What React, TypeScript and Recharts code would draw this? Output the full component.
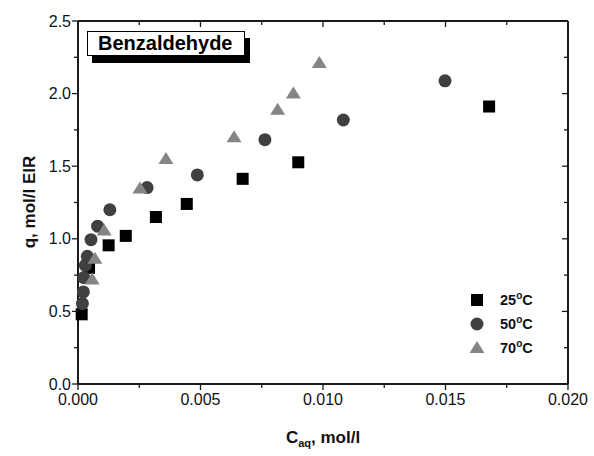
import { ReferenceLine, Scatter, ScatterChart, XAxis, YAxis } from 'recharts'

const xTicks = [0, 0.0025, 0.005, 0.0075, 0.01, 0.0125, 0.015, 0.0175, 0.02]
const yTicks = [0, 0.25, 0.5, 0.75, 1, 1.25, 1.5, 1.75, 2, 2.25, 2.5]

const c25 = [0.00015, 0.00045, 0.00125, 0.00195, 0.00318, 0.00444, 0.00672, 0.00899, 0.01678]
const q25 = [0.48, 0.8, 0.955, 1.02, 1.15, 1.24, 1.413, 1.527, 1.911]

const c50 = [0.00018, 0.00022, 0.00024, 0.0003, 0.00038, 0.00053, 0.0008, 0.0013, 0.00282, 0.00487, 0.00763, 0.01083, 0.01498]
const q50 = [0.554, 0.634, 0.733, 0.817, 0.879, 0.994, 1.087, 1.2, 1.353, 1.44, 1.683, 1.818, 2.088]

const c70 = [0.00058, 0.00069, 0.00107, 0.00253, 0.00359, 0.00637, 0.00815, 0.00879, 0.00985]
const q70 = [0.72, 0.863, 1.058, 1.346, 1.55, 1.7, 1.889, 2.0, 2.21]

const series = [
  { name: '25', c: c25, q: q25, color: '#000000', shape: 'square' },
  { name: '50', c: c50, q: q50, color: '#404040', shape: 'circle' },
  { name: '70', c: c70, q: q70, color: '#858585', shape: 'triangle' },
]

const toPoints = (c: number[], q: number[]) => c.map((x, i) => ({ x, y: q[i] }))

const FONT = '"Liberation Sans", Arial, sans-serif'
const AXIS = '#1a1a1a'
const axisLine = { stroke: AXIS, strokeWidth: 2 }

// plot box size, used to mirror ticks onto the top and right edges
const W = 594
const H = 456
const M = { top: 21, right: 26, bottom: 0, left: 0 }
const Y_AXIS_W = 78
const X_AXIS_H = 72
const PLOT_W = W - M.left - M.right - Y_AXIS_W
const PLOT_H = H - M.top - M.bottom - X_AXIS_H

function isMajor(v: number, step: number) {
  const r = v / step
  return Math.abs(r - Math.round(r)) < 1e-6
}

function Marker({ cx, cy, shape, color }: any) {
  if (cx == null || cy == null) return null
  if (shape === 'square') return <rect x={cx - 6} y={cy - 6} width={12} height={12} fill={color} />
  if (shape === 'circle') return <circle cx={cx} cy={cy} r={6.5} fill={color} />
  return <polygon points={`${cx},${cy - 7} ${cx + 7.5},${cy + 5} ${cx - 7.5},${cy + 5}`} fill={color} />
}

function XTick({ x, y, payload }: any) {
  const major = isMajor(payload.value, 0.005)
  const len = major ? 6 : 4
  const top = y - PLOT_H
  return (
    <g>
      <line x1={x} x2={x} y1={y} y2={y + len} stroke={AXIS} strokeWidth={1.3} />
      <line x1={x} x2={x} y1={top} y2={top + len} stroke={AXIS} strokeWidth={1.3} />
      {major && (
        <text x={x} y={y + 21} textAnchor="middle" fontSize={16} fontFamily={FONT} fill="#111">
          {payload.value.toFixed(3)}
        </text>
      )}
    </g>
  )
}

function YTick({ x, y, payload }: any) {
  const major = isMajor(payload.value, 0.5)
  const len = major ? 6 : 4
  const right = x + PLOT_W
  return (
    <g>
      <line x1={x} x2={x - len} y1={y} y2={y} stroke={AXIS} strokeWidth={1.3} />
      <line x1={right} x2={right - len} y1={y} y2={y} stroke={AXIS} strokeWidth={1.3} />
      {major && (
        <text x={x - 7} y={y + 5.5} textAnchor="end" fontSize={16} fontFamily={FONT} fill="#111">
          {payload.value.toFixed(1)}
        </text>
      )}
    </g>
  )
}

export default function App() {
  return (
    <div style={{ position: 'absolute', left: 0, top: 0, width: W, height: H, background: '#fff' }}>
      <ScatterChart width={W} height={H} margin={M}>
        <XAxis
          dataKey="x"
          type="number"
          domain={[0, 0.02]}
          ticks={xTicks}
          height={X_AXIS_H}
          tickLine={false}
          tickSize={0}
          tickMargin={0}
          axisLine={axisLine}
          tick={<XTick />}
          interval={0}
        />
        <YAxis
          dataKey="y"
          type="number"
          domain={[0, 2.5]}
          ticks={yTicks}
          width={Y_AXIS_W}
          tickLine={false}
          tickSize={0}
          tickMargin={0}
          axisLine={axisLine}
          tick={<YTick />}
          interval={0}
        />
        <ReferenceLine x={0.02} stroke={AXIS} strokeWidth={2} />
        <ReferenceLine y={2.5} stroke={AXIS} strokeWidth={2} />
        {series.map((s) => (
          <Scatter
            key={s.name}
            name={s.name}
            data={toPoints(s.c, s.q)}
            fill={s.color}
            isAnimationActive={false}
            shape={(p: any) => <Marker cx={p.cx} cy={p.cy} shape={s.shape} color={s.color} />}
          />
        ))}
      </ScatterChart>
      <div
        style={{
          position: 'absolute',
          left: 467,
          top: 288,
          fontFamily: FONT,
          fontWeight: 'bold',
          fontSize: 14.5,
          color: '#111',
        }}
      >
        {series.map((s) => (
          <div key={s.name} style={{ display: 'flex', alignItems: 'center', height: 24 }}>
            <svg width={20} height={18} style={{ marginRight: 13 }}>
              <Marker cx={10} cy={9} shape={s.shape} color={s.color} />
            </svg>
            <span>
              {s.name}
              <sup style={{ fontSize: 10, lineHeight: 0 }}>o</sup>C
            </span>
          </div>
        ))}
      </div>
      <div
        style={{
          position: 'absolute',
          left: 87,
          top: 31,
          width: 158,
          height: 25,
          border: '1px solid #000',
          background: '#fff',
          boxShadow: '5px 7px 0 #000',
          fontFamily: FONT,
          fontWeight: 'bold',
          fontSize: 20,
          lineHeight: '23px',
          paddingLeft: 10,
          boxSizing: 'border-box',
          color: '#000',
        }}
      >
        Benzaldehyde
      </div>
      <div
        style={{
          position: 'absolute',
          left: 223,
          width: 200,
          top: 428,
          textAlign: 'center',
          fontFamily: FONT,
          fontWeight: 'bold',
          fontSize: 17,
          color: '#111',
        }}
      >
        C<sub style={{ fontSize: 11 }}>aq</sub>, mol/l
      </div>
      <div
        style={{
          position: 'absolute',
          left: 30,
          top: 202,
          transform: 'translate(-50%, -50%) rotate(-90deg)',
          whiteSpace: 'nowrap',
          fontFamily: FONT,
          fontWeight: 'bold',
          fontSize: 17,
          color: '#111',
        }}
      >
        q, mol/l EIR
      </div>
    </div>
  )
}
